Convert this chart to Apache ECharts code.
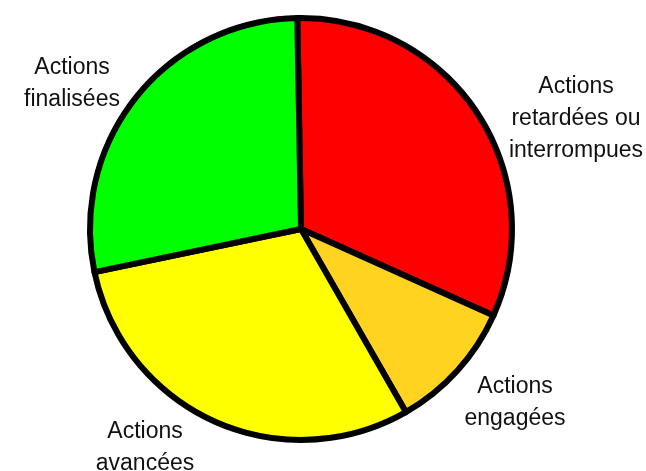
<!DOCTYPE html>
<html>
<head>
<meta charset="utf-8">
<script src="https://cdn.jsdelivr.net/npm/echarts@6/dist/echarts.min.js"></script>
<style>
html,body{margin:0;padding:0;background:#fff;}
#chart{width:646px;height:471px;}
</style>
</head>
<body>
<div id="chart"></div>
<script>
const categories = ["Actions\nretardées ou\ninterrompues", "Actions\nengagées", "Actions\navancées", "Actions\nfinalisées"];
const values = [32, 10, 30, 28];
const colors = ["#ff0000", "#ffd320", "#ffff00", "#00ff00"];
const labelPos = [[576, 119], [515, 403], [145, 448], [72, 84]];

const chart = echarts.init(document.getElementById('chart'), null, {renderer: 'canvas'});
chart.setOption({
  backgroundColor: '#ffffff',
  animation: false,
  series: [{
    type: 'pie',
    center: [301, 229],
    radius: [0, 211],
    startAngle: 91,
    clockwise: true,
    avoidLabelOverlap: false,
    data: categories.map((c, i) => ({name: c, value: values[i], itemStyle: {color: colors[i]}})),
    itemStyle: {borderColor: '#000000', borderWidth: 6, borderJoin: 'round'},
    label: {
      show: true,
      position: 'outside',
      formatter: '{b}',
      color: '#111111',
      fontFamily: 'Liberation Sans, Arial, sans-serif',
      fontSize: 23,
      lineHeight: 32,
      align: 'center'
    },
    labelLine: {show: false},
    labelLayout: function (p) {
      const pos = labelPos[p.dataIndex];
      return {x: pos[0], y: pos[1], align: 'center', verticalAlign: 'middle'};
    },
    emphasis: {disabled: true}
  }]
});
</script>
</body>
</html>
